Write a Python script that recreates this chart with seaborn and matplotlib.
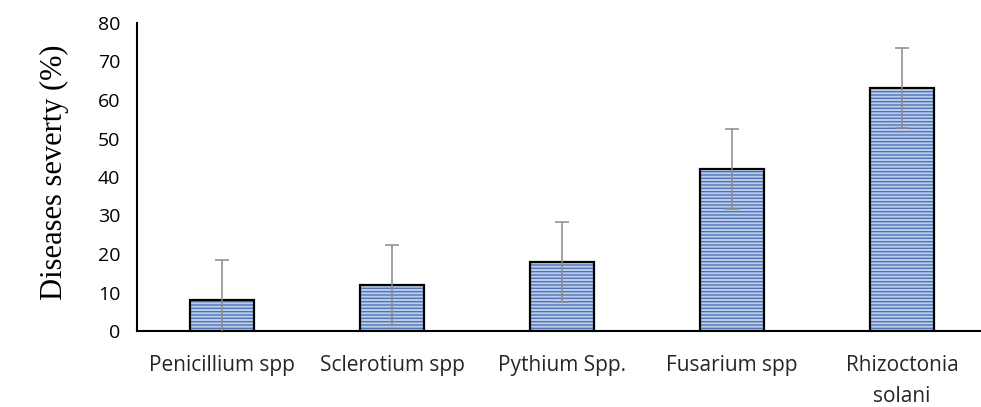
import matplotlib
matplotlib.use("Agg")
import matplotlib.pyplot as plt
import seaborn as sns
import pandas as pd
from matplotlib.patches import Rectangle

# Данные
categories = ["Penicillium spp", "Sclerotium spp", "Pythium Spp.", "Fusarium spp", "Rhizoctonia\nsolani"]
severity = [8, 12, 18, 42, 63]
errors = [10.4, 10.4, 10.4, 10.4, 10.4]

df = pd.DataFrame({"pathogen": categories, "severity": severity})

sns.set_style("white")
plt.rcParams["hatch.linewidth"] = 1.0
plt.rcParams["hatch.color"] = "#4f74b8"

fig = plt.figure(figsize=(9.81, 4.07), dpi=100)
ax = fig.add_axes([137 / 981, 76 / 407, 850 / 981, 308 / 407])

sns.barplot(data=df, x="pathogen", y="severity", ax=ax, color="#bccde9",
            saturation=1, width=0.38, errorbar=None, linewidth=0,
            hatch="-----", zorder=2)

# Чёрная рамка поверх штриховки (штриховка берёт цвет от edgecolor)
for p in list(ax.patches):
    p.set_edgecolor("#4f74b8")
    p.set_linewidth(0)
    ax.add_patch(Rectangle(p.get_xy(), p.get_width(), p.get_height(),
                           fill=False, edgecolor="black", linewidth=1.6, zorder=3))

ax.errorbar(range(len(categories)), severity, yerr=errors, fmt="none",
            ecolor="#8a8a8a", elinewidth=1.1, capsize=4.7, capthick=1.1, zorder=4)

ax.set_xlim(-0.5, 4.5)
ax.set_ylim(0, 80)
ax.set_yticks(range(0, 81, 10))
ax.set_xticks(range(len(categories)))
ax.set_xticklabels(categories, family="Open Sans", fontsize=15, color="#262626",
                   linespacing=1.65, va="top")
ax.set_xticks([-0.5, 0.5, 1.5, 2.5, 3.5], minor=True)
ax.tick_params(axis="x", which="major", length=0, pad=17)
ax.tick_params(axis="x", which="minor", length=7, width=1.5, direction="out", color="black")
ax.tick_params(axis="y", length=7, width=1.5, direction="out", color="black",
               labelcolor="black", pad=5)
for lbl in ax.get_yticklabels():
    lbl.set_family("Open Sans")
    lbl.set_fontsize(14)

ax.set_xlabel("")
ax.set_ylabel("Diseases severty (%)", family="Liberation Serif", fontsize=22,
              color="black")
ax.yaxis.set_label_coords(-0.08, 0.515)

sns.despine(ax=ax, top=True, right=True)
for s in ["left", "bottom"]:
    ax.spines[s].set_color("black")
    ax.spines[s].set_linewidth(1.5)

fig.savefig("out.png", dpi=100)
